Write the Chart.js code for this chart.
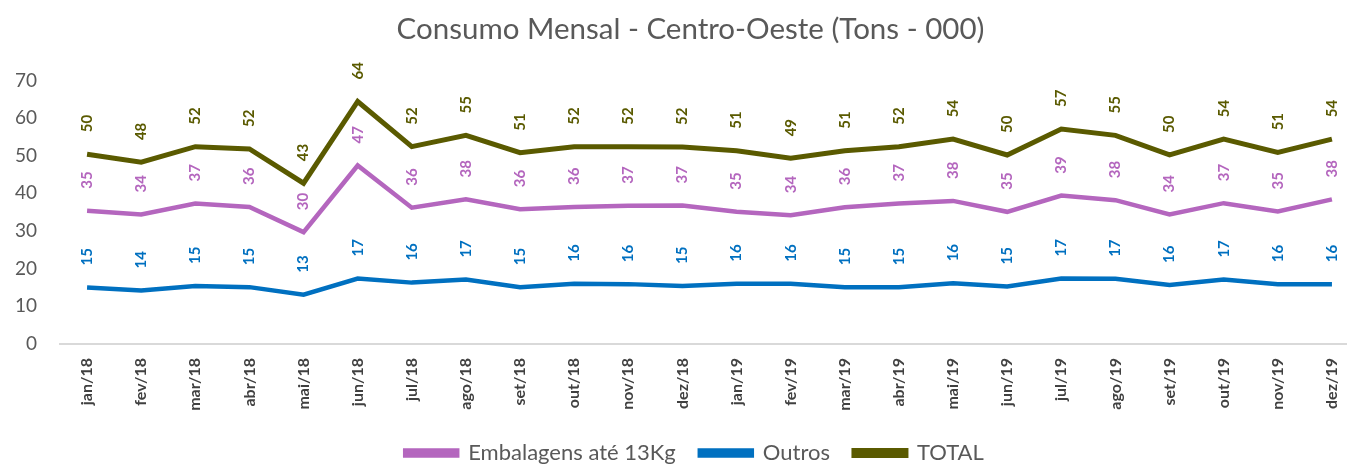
<!DOCTYPE html>
<html>
<head>
<meta charset="utf-8">
<script src="https://cdn.jsdelivr.net/npm/chart.js@4.4.1/dist/chart.umd.min.js"></script>
<style>
  html, body { margin: 0; padding: 0; background: #fff; overflow: hidden; }
  #wrap { width: 1385px; height: 464px; }
</style>
</head>
<body>
<div id="wrap"><canvas id="myChart" width="1385" height="464"></canvas></div>
<script>
const months = ['jan/18', 'fev/18', 'mar/18', 'abr/18', 'mai/18', 'jun/18', 'jul/18', 'ago/18', 'set/18', 'out/18', 'nov/18', 'dez/18',
  'jan/19', 'fev/19', 'mar/19', 'abr/19', 'mai/19', 'jun/19', 'jul/19', 'ago/19', 'set/19', 'out/19', 'nov/19', 'dez/19'];

const embalagens = [35.4, 34.4, 37.3, 36.4, 29.7, 47.4, 36.2, 38.4, 35.8, 36.4, 36.7, 36.8,
  35.1, 34.2, 36.3, 37.3, 38.0, 35.1, 39.4, 38.2, 34.4, 37.4, 35.2, 38.4];
const outros = [15.0, 14.2, 15.4, 15.1, 13.1, 17.4, 16.3, 17.1, 15.1, 16.0, 15.9, 15.4,
  16.0, 16.0, 15.1, 15.1, 16.1, 15.3, 17.4, 17.3, 15.7, 17.1, 15.9, 15.9];
const total = [50.4, 48.3, 52.4, 51.8, 42.7, 64.4, 52.4, 55.4, 50.8, 52.4, 52.4, 52.3,
  51.3, 49.3, 51.3, 52.4, 54.4, 50.2, 57.1, 55.4, 50.2, 54.4, 50.9, 54.4];

const yTicks = [0, 10, 20, 30, 40, 50, 60, 70];

// rotated value labels above each point
const rotatedLabels = {
  id: 'rotatedLabels',
  afterDatasetsDraw(chart) {
    const ctx = chart.ctx;
    chart.data.datasets.forEach((ds, i) => {
      const meta = chart.getDatasetMeta(i);
      if (meta.hidden) return;
      meta.data.forEach((pt, j) => {
        ctx.save();
        ctx.translate(pt.x, pt.y - 22);
        ctx.rotate(-Math.PI / 2);
        ctx.font = 'bold 15px Lato';
        ctx.fillStyle = ds.borderColor;
        ctx.textAlign = 'left';
        ctx.textBaseline = 'middle';
        ctx.fillText(String(Math.round(ds.data[j])), 0, 0);
        ctx.restore();
      });
    });
  }
};

// nudge title and legend a bit to the right, like the original
const nudge = {
  id: 'nudge',
  afterLayout(chart) {
    chart.titleBlock.left += 11;
    chart.titleBlock.right += 11;
    chart.legend.left += 15;
    chart.legend.right += 15;
  }
};

const ctx = document.getElementById('myChart').getContext('2d');
const chart = new Chart(ctx, {
  type: 'line',
  data: {
    labels: months,
    datasets: [{
      label: 'Embalagens até 13Kg',
      data: embalagens,
      borderColor: '#B466BE',
      backgroundColor: '#B466BE',
      borderWidth: 4.5,
      pointRadius: 0,
      tension: 0,
      fill: false
    }, {
      label: 'Outros',
      data: outros,
      borderColor: '#0070C0',
      backgroundColor: '#0070C0',
      borderWidth: 4.5,
      pointRadius: 0,
      tension: 0,
      fill: false
    }, {
      label: 'TOTAL',
      data: total,
      borderColor: '#5A5A00',
      backgroundColor: '#5A5A00',
      borderWidth: 5,
      pointRadius: 0,
      tension: 0,
      fill: false
    }]
  },
  options: {
    responsive: false,
    animation: false,
    devicePixelRatio: 1,
    layout: { padding: { left: 0, right: 26, top: 0, bottom: -10 } },
    plugins: {
      title: {
        display: true,
        text: 'Consumo Mensal - Centro-Oeste (Tons - 000)',
        color: '#595959',
        font: { family: 'Lato', size: 29.5, weight: 'normal' },
        padding: { top: 11.5, bottom: 33.5 }
      },
      legend: {
        position: 'bottom',
        labels: {
          color: '#595959',
          font: { family: 'Lato', size: 22 },
          boxWidth: 52,
          boxHeight: 5,
          padding: 24
        }
      },
      tooltip: { enabled: false }
    },
    scales: {
      x: {
        offset: true,
        grid: { display: false, drawTicks: false, offset: true },
        border: { display: true, color: '#D9D9D9', width: 2 },
        ticks: {
          color: '#404040',
          font: { family: 'Lato', size: 16, weight: 'bold' },
          maxRotation: 90,
          minRotation: 90,
          padding: 14,
          autoSkip: false
        },
        afterFit(scale) { scale.height = 74; }
      },
      y: {
        min: 0,
        max: 70,
        grid: { display: false, drawTicks: false },
        border: { display: false },
        afterBuildTicks(scale) { scale.ticks = yTicks.map(v => ({ value: v })); },
        ticks: {
          color: '#595959',
          font: { family: 'Lato', size: 19 },
          padding: 23
        },
        afterFit(scale) { scale.width = 60; }
      }
    }
  },
  plugins: [rotatedLabels, nudge]
});
</script>
</body>
</html>
